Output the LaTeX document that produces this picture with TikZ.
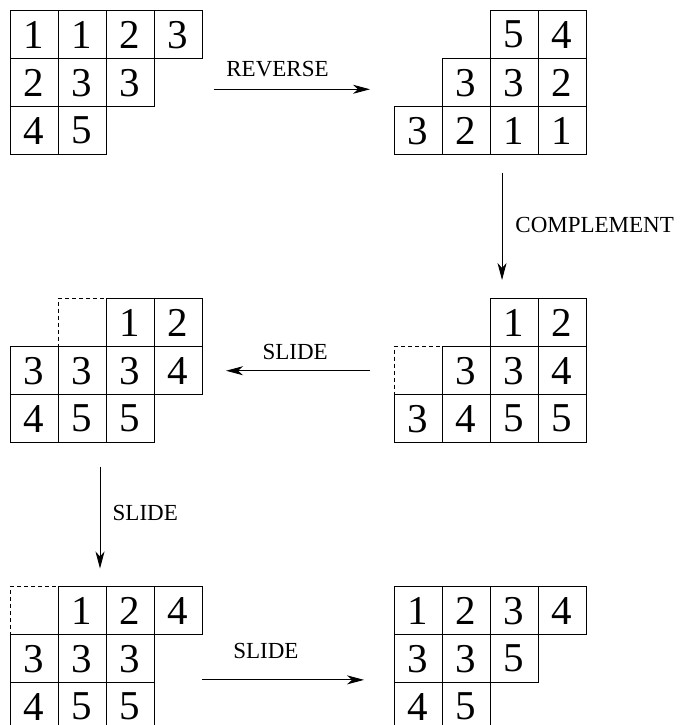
\documentclass[tikz,border=0pt]{standalone}
\usepackage{fontspec}
\setmainfont{Liberation Serif}
\usetikzlibrary{arrows.meta}

\begin{document}
\begin{tikzpicture}[x=48pt,y=-48pt,line width=0.9pt,
cell/.style={draw,minimum size=48pt,inner sep=0pt,font=\fontsize{41}{41}\selectfont},
ghost/.style={cell,dashed,dash pattern=on 4pt off 3pt},
arr/.style={-{Stealth[length=17pt,width=9pt,inset=5pt]}},
lab/.style={font=\fontsize{23}{23}\selectfont,inner sep=0pt}]
\clip (-0.2083,-0.223) rectangle (13.9375,14.88);

% dashed cells first, solid ones on top
\node[ghost] (t3-g) at (8.5,7.5) {};
\node[ghost] (t4-g) at (1.5,6.5) {};
\node[ghost] (t5-g) at (0.5,12.5) {};

% first row: original and reversed
\foreach \c/\r/\t in {0/0/1,1/0/1,2/0/2,3/0/3,0/1/2,1/1/3,2/1/3,0/2/4,1/2/5}
	\node[cell] (t1-\c\r) at (\c+.5,\r+.5) {\t};
\foreach \c/\r/\t in {2/0/5,3/0/4,1/1/3,2/1/3,3/1/2,0/2/3,1/2/2,2/2/1,3/2/1}
	\node[cell] (t2-\c\r) at (\c+8.5,\r+.5) {\t};

% second row
\foreach \c/\r/\t in {2/0/1,3/0/2,1/1/3,2/1/3,3/1/4,0/2/3,1/2/4,2/2/5,3/2/5}
	\node[cell] (t3-\c\r) at (\c+8.5,\r+6.5) {\t};
\foreach \c/\r/\t in {2/0/1,3/0/2,0/1/3,1/1/3,2/1/3,3/1/4,0/2/4,1/2/5,2/2/5}
	\node[cell] (t4-\c\r) at (\c+.5,\r+6.5) {\t};

% third row
\foreach \c/\r/\t in {1/0/1,2/0/2,3/0/4,0/1/3,1/1/3,2/1/3,0/2/4,1/2/5,2/2/5}
	\node[cell] (t5-\c\r) at (\c+.5,\r+12.5) {\t};
\foreach \c/\r/\t in {0/0/1,1/0/2,2/0/3,3/0/4,0/1/3,1/1/3,2/1/5,0/2/4,1/2/5}
	\node[cell] (t6-\c\r) at (\c+8.5,\r+12.5) {\t};

% arrows
\coordinate (revS) at (4.25,1.637);
\coordinate (revE) at (7.5,1.637);
\coordinate (comS) at (10.25,3.375);
\coordinate (comE) at (10.25,5.61);
\coordinate (sl1S) at (7.5,7.5);
\coordinate (sl1E) at (4.5,7.5);
\coordinate (sl2S) at (1.875,9.5);
\coordinate (sl2E) at (1.875,11.62);
\coordinate (sl3S) at (4.0,13.94);
\coordinate (sl3E) at (7.375,13.94);

\draw[arr] (revS) -- (revE);
\draw[arr] (comS) -- (comE);
\draw[arr] (sl1S) -- (sl1E);
\draw[arr] (sl2S) -- (sl2E);
\draw[arr] (sl3S) -- (sl3E);

\node[lab] (revL) at (5.573,1.225) {REVERSE};
\node[lab,anchor=west] (comL) at (10.52,4.465) {COMPLEMENT};
\node[lab] (sl1L) at (5.94,7.10) {SLIDE};
\node[lab,anchor=west] (sl2L) at (2.13,10.46) {SLIDE};
\node[lab] (sl3L) at (5.33,13.34) {SLIDE};
\end{tikzpicture}
\end{document}
